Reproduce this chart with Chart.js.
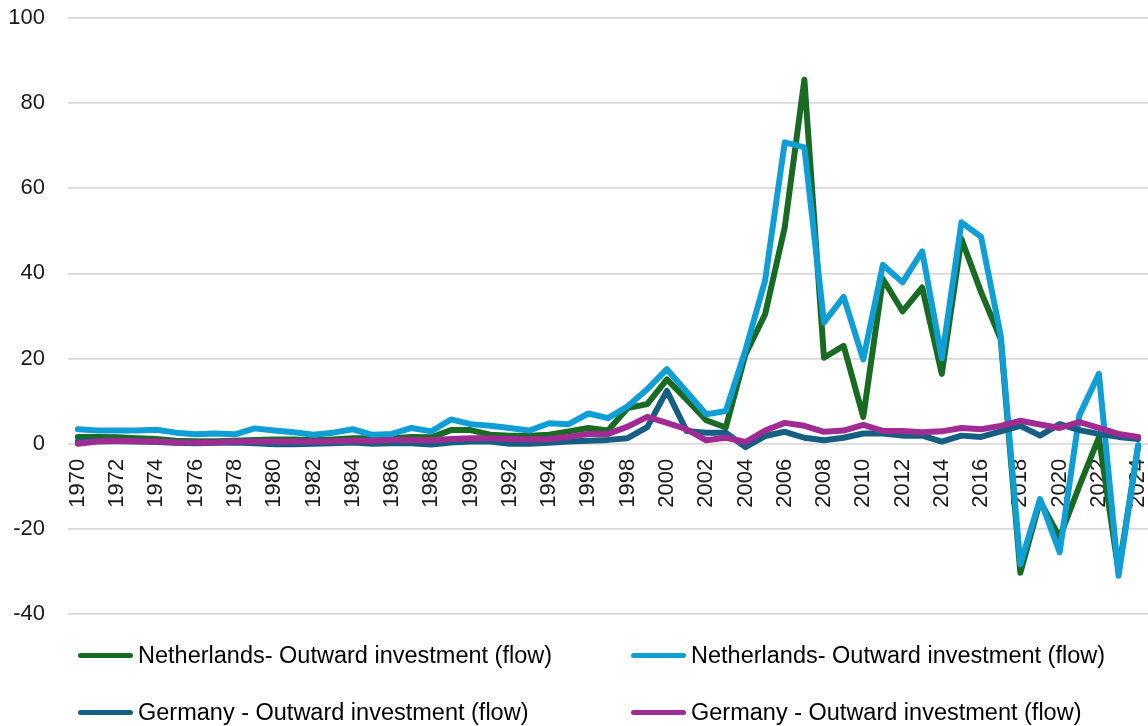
<!DOCTYPE html>
<html>
<head>
<meta charset="utf-8">
<title>Outward investment (flow)</title>
<script src="https://cdn.jsdelivr.net/npm/chart.js@4/dist/chart.umd.min.js"></script>
<style>
  body { margin: 0; background: #fff; }
  #wrap { position: relative; width: 1148px; height: 726px; overflow: hidden; }
  #legend {
    position: absolute; left: 78px; top: 640px;
    display: grid; grid-template-columns: 553px auto; row-gap: 27px;
    font-family: "Liberation Sans", Arial, sans-serif; font-size: 23.5px; color: #000;
  }
  #legend .item { display: flex; align-items: center; height: 30px; white-space: nowrap; }
  #legend .swatch { width: 55px; height: 5px; border-radius: 3px; margin-right: 5px; }
</style>
</head>
<body>
<div id="wrap">
  <canvas id="flowChart" width="1148" height="726"></canvas>
  <div id="legend"></div>
</div>
<script>
// ==============================
// Data (% of GDP, yearly flows)
// ==============================
const years = [
  "1970","1971","1972","1973","1974","1975","1976","1977","1978","1979",
  "1980","1981","1982","1983","1984","1985","1986","1987","1988","1989",
  "1990","1991","1992","1993","1994","1995","1996","1997","1998","1999",
  "2000","2001","2002","2003","2004","2005","2006","2007","2008","2009",
  "2010","2011","2012","2013","2014","2015","2016","2017","2018","2019",
  "2020","2021","2022","2023","2024"
];

const nlFlowA = [
  1.6, 1.6, 1.5, 1.3, 1.1, 0.7, 0.6, 0.6, 0.7, 0.9,
  1.0, 1.0, 0.8, 1.0, 1.3, 1.3, 1.3, 1.6, 1.5, 3.2,
  3.2, 2.1, 1.9, 1.9, 2.1, 2.9, 3.7, 3.1, 8.4, 9.3,
  15.1, 10.4, 5.5, 3.8, 21, 30.4, 50.8, 85.5, 20.2, 23,
  6.3, 38.7, 31.1, 36.7, 16.4, 48.1, 35.6, 24.6, -30.3, -13.5,
  -22, -10, 1.5, -30, -0.5
];

const nlFlowB = [
  3.4, 3.1, 3.1, 3.1, 3.3, 2.6, 2.2, 2.4, 2.2, 3.6,
  3.1, 2.7, 2.1, 2.6, 3.4, 2.1, 2.3, 3.7, 2.9, 5.7,
  4.6, 4.2, 3.7, 3.1, 4.8, 4.6, 7.1, 6.0, 8.8, 12.8,
  17.5, 12.2, 6.9, 7.7, 22, 38.3, 70.8, 69.6, 28.5, 34.5,
  19.8, 42, 37.9, 45.2, 20, 52, 48.6, 25.4, -28.3, -13,
  -25.5, 6.6, 16.4, -31, -0.3
];

const deFlowA = [
  0.5, 0.6, 0.6, 0.5, 0.4, 0.2, 0.1, 0.2, 0.3, 0.1,
  -0.1, -0.1, 0.0, 0.1, 0.3, 0.0, 0.1, 0.1, -0.2, 0.3,
  0.5, 0.5, 0.0, 0.0, 0.2, 0.5, 0.7, 0.9, 1.3, 3.9,
  12.4, 3.0, 2.6, 2.6, -0.8, 1.8, 2.8, 1.4, 0.8, 1.4,
  2.4, 2.4, 1.9, 1.9, 0.5, 1.9, 1.6, 2.9, 4.2, 1.9,
  4.6, 3.2, 2.3, 1.6, 1.1
];

const deFlowB = [
  0.0, 0.5, 0.7, 0.6, 0.5, 0.3, 0.3, 0.3, 0.5, 0.5,
  0.5, 0.5, 0.5, 0.6, 0.7, 0.7, 0.9, 0.9, 0.8, 1.1,
  1.3, 1.3, 1.1, 1.0, 1.1, 1.6, 2.3, 2.3, 4.0, 6.3,
  4.9, 3.4, 0.8, 1.4, 0.4, 3.1, 4.9, 4.2, 2.8, 3.1,
  4.4, 3.0, 3.0, 2.7, 2.9, 3.7, 3.4, 4.2, 5.4, 4.5,
  3.7, 5.1, 3.7, 2.3, 1.6
];

const seriesNames = [
  "Netherlands- Outward investment (flow)",
  "Netherlands- Outward investment (flow)",
  "Germany - Outward investment (flow)",
  "Germany - Outward investment (flow)"
];

const yTicks = { min: -40, max: 100, step: 20 };

// ==============================
// Chart
// ==============================
const FONT = "'Liberation Sans', Arial, sans-serif";

function lineSet(label, data, color, order) {
  return {
    label, data, order,
    borderColor: color, backgroundColor: color,
    borderWidth: 6, pointRadius: 0, pointHoverRadius: 0,
    tension: 0, borderJoinStyle: "round", borderCapStyle: "round", fill: false
  };
}

const ctx = document.getElementById("flowChart").getContext("2d");

const flowChart = new Chart(ctx, {
  type: "line",
  data: {
    labels: years,
    datasets: [
      lineSet(seriesNames[0], nlFlowA, "#196B24", 4),
      lineSet(seriesNames[1], nlFlowB, "#0F9ED5", 3),
      lineSet(seriesNames[2], deFlowA, "#156082", 2),
      lineSet(seriesNames[3], deFlowB, "#A02B93", 1)
    ]
  },
  options: {
    responsive: false,
    animation: false,
    layout: { padding: { left: 8, top: 18, right: -3, bottom: 112 } },
    plugins: { legend: { display: false }, tooltip: { enabled: false } },
    scales: {
      x: {
        position: { y: 0 },
        offset: true,
        grid: { display: false, drawTicks: false },
        border: { display: false },
        ticks: {
          autoSkip: false, minRotation: 90, maxRotation: 90, padding: 15,
          color: "#1a1a1a", font: { family: FONT, size: 22 },
          callback: (v, i) => (i % 2 === 0 ? years[i] : "")
        },
        // rotated labels may run off the right edge, don't shrink the plot for them
        afterFit: (scale) => { scale.paddingLeft = 0; scale.paddingRight = 0; }
      },
      y: {
        min: yTicks.min, max: yTicks.max,
        grid: { color: "#d9d9d9", lineWidth: 1.8, drawTicks: false },
        border: { display: false },
        ticks: {
          stepSize: yTicks.step, padding: 23,
          color: "#1a1a1a", font: { family: FONT, size: 22 }
        },
        afterFit: (scale) => {
          scale.width = 60;
          scale.paddingTop = 0;
          scale.paddingBottom = 0;
        }
      }
    }
  }
});

// ==============================
// Legend (two columns under the plot)
// ==============================
const legendEl = document.getElementById("legend");
flowChart.data.datasets.forEach(ds => {
  const item = document.createElement("div");
  item.className = "item";
  item.innerHTML = `<span class="swatch" style="background:${ds.borderColor}"></span><span>${ds.label}</span>`;
  legendEl.appendChild(item);
});
</script>
</body>
</html>
